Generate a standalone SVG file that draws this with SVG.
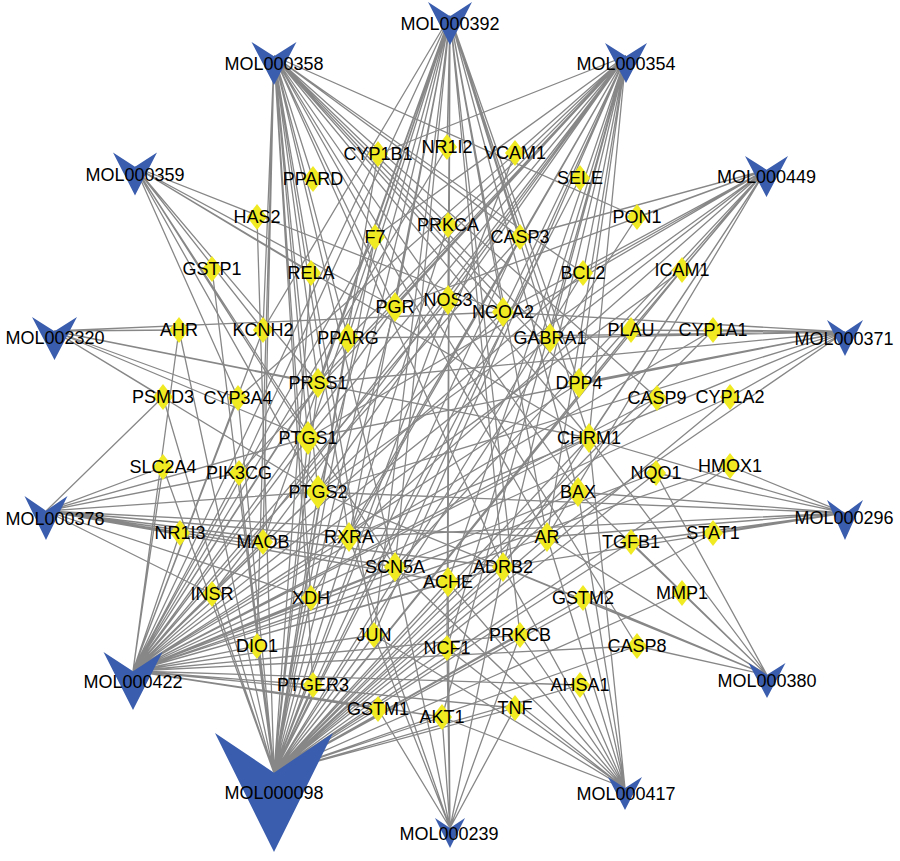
<svg xmlns="http://www.w3.org/2000/svg" xmlns:xlink="http://www.w3.org/1999/xlink" width="900" height="861" viewBox="0 0 900 861">
<style>
.e{stroke:#878787;stroke-width:1.3;fill:none}
.v{fill:#3A5DAD}
text{font-family:"Liberation Sans",Arial,sans-serif;font-size:18px;text-anchor:middle;fill:#000}
</style>
<defs>
<polygon id="ds" points="0,-13 10,0 0,13 -10,0" fill="#F0EA22"/>
<polygon id="dm" points="0,-15 11,0 0,15 -11,0" fill="#F0EA22"/>
<polygon id="dl" points="0,-17 12.5,0 0,17 -12.5,0" fill="#F0EA22"/>
</defs>
<rect width="900" height="861" fill="#fff"/>
<g id="edges" class="e">
<path id="e-MOL000098" d="M274 773L515 153M274 773L580 178M274 773L637 217M274 773L682 270M274 773L713 330M274 773L730 397M274 773L730 466M274 773L713 533M274 773L682 593M274 773L637 646M274 773L580 685M274 773L515 708M274 773L442 717M274 773L378 709M274 773L313 685M274 773L257 646M274 773L212 594M274 773L163 467M274 773L163 397M274 773L179 330M274 773L212 269M274 773L257 217M274 773L378 154M274 773L375 237M274 773L448 225M274 773L520 237M274 773L583 273M274 773L631 330M274 773L657 398M274 773L656 473M274 773L631 542M274 773L583 598M274 773L520 635M274 773L447 648M274 773L374 635M274 773L311 598M274 773L239 473M274 773L238 398M274 773L311 273M274 773L395 307M274 773L448 300M274 773L503 312M274 773L589 438M274 773L578 492M274 773L547 537M274 773L503 567M274 773L448 582M274 773L349 537M274 773L318 492M274 773L308 438M274 773L318 383M274 773L348 338"/>
<path id="e-MOL000422" d="M133 671L308 438M133 671L318 492M133 671L547 537M133 671L348 338M133 671L503 312M133 671L395 307M133 671L318 383M133 671L589 438M133 671L448 582M133 671L349 537M133 671L395 567M133 671L503 567M133 671L550 338M133 671L263 330M133 671L239 473M133 671L375 237M133 671L442 717M133 671L583 273M133 671L578 492M133 671L520 237M133 671L374 635M133 671L515 708M133 671L682 270M133 671L730 466M133 671L447 147M133 671L180 533M133 671L212 594M133 671L257 646M133 671L238 398M133 671L713 330M133 671L730 397M133 671L378 154M133 671L179 330M133 671L163 467M133 671L448 300M133 671L263 542M133 671L311 598M133 671L313 685M133 671L378 709M133 671L657 398M133 671L637 646M133 671L656 473M133 671L520 635M133 671L579 383M133 671L580 685"/>
<path id="e-MOL000358" d="M274 56L395 307M274 56L503 312M274 56L308 438M274 56L318 492M274 56L263 330M274 56L589 438M274 56L395 567M274 56L503 567M274 56L448 225M274 56L583 273M274 56L578 492M274 56L520 237M274 56L657 398M274 56L637 646M274 56L374 635M274 56L637 217M274 56L263 542M274 56L313 179M274 56L349 537M274 56L318 383M274 56L348 338M274 56L547 537M274 56L550 338M274 56L579 383M274 56L311 598M274 56L257 646M274 56L313 685"/>
<path id="e-MOL000392" d="M450 16L308 438M450 16L318 492M450 16L318 383M450 16L348 338M450 16L395 307M450 16L448 300M450 16L503 312M450 16L547 537M450 16L349 537M450 16L448 582M450 16L503 567M450 16L589 438M450 16L579 383M450 16L550 338M450 16L395 567M450 16L374 635M450 16L520 237M450 16L578 492M450 16L263 330M450 16L263 542M450 16L239 473M450 16L375 237M450 16L447 648M450 16L311 598M450 16L520 635M450 16L447 147"/>
<path id="e-MOL000354" d="M626 56L308 438M626 56L318 492M626 56L547 537M626 56L348 338M626 56L503 312M626 56L318 383M626 56L448 582M626 56L349 537M626 56L375 237M626 56L239 473M626 56L448 300M626 56L579 383M626 56L550 338M626 56L589 438M626 56L442 717M626 56L395 307M626 56L503 567M626 56L395 567M626 56L378 154M626 56L448 225M626 56L311 598M626 56L263 542M626 56L447 648M626 56L374 635M626 56L212 594M626 56L238 398M626 56L583 273"/>
<path id="e-MOL000449" d="M766 170L637 217M766 170L682 270M766 170L631 330M766 170L583 273M766 170L503 312M766 170L395 307M766 170L550 338M766 170L579 383M766 170L589 438M766 170L308 438M766 170L318 492M766 170L395 567M766 170L503 567M766 170L349 537M766 170L547 537M766 170L520 237"/>
<path id="e-MOL000359" d="M135 167L395 307M135 167L311 273M135 167L503 312M135 167L263 330M135 167L238 398M135 167L308 438M135 167L318 492M135 167L318 383M135 167L589 438M135 167L395 567"/>
<path id="e-MOL002320" d="M54 331L179 330M54 331L163 397M54 331L238 398M54 331L318 383M54 331L308 438M54 331L318 492M54 331L503 312M54 331L589 438"/>
<path id="e-MOL000371" d="M845 332L713 330M845 332L730 397M845 332L550 338M845 332L503 312M845 332L348 338M845 332L308 438M845 332L318 492M845 332L318 383M845 332L547 537M845 332L579 383M845 332L589 438M845 332L349 537M845 332L631 330"/>
<path id="e-MOL000296" d="M845 513L730 466M845 513L656 473M845 513L713 533M845 513L631 542M845 513L547 537M845 513L503 567M845 513L318 492M845 513L349 537M845 513L589 438M845 513L578 492"/>
<path id="e-MOL000378" d="M46 511L180 533M46 511L163 467M46 511L239 473M46 511L308 438M46 511L318 492M46 511L263 542M46 511L349 537M46 511L395 567M46 511L448 582M46 511L547 537M46 511L503 567M46 511L311 598M46 511L212 594M46 511L163 397"/>
<path id="e-MOL000380" d="M767 675L637 646M767 675L583 598M767 675L682 593M767 675L631 542M767 675L656 473M767 675L589 438M767 675L578 492M767 675L547 537M767 675L318 492M767 675L503 567"/>
<path id="e-MOL000417" d="M625 788L580 685M625 788L515 708M625 788L520 635M625 788L583 598M625 788L448 582M625 788L503 567M625 788L547 537M625 788L578 492M625 788L589 438M625 788L447 648M625 788L374 635M625 788L442 717M625 788L395 567"/>
<path id="e-MOL000239" d="M450 828L442 717M450 828L447 648M450 828L448 582M450 828L374 635M450 828L520 635M450 828L515 708M450 828L503 567M450 828L395 567M450 828L378 709M450 828L349 537"/>
</g>
<g id="targets">
<g id="NR1I2" transform="translate(447,147)"><use href="#ds"/><text y="6.4">NR1I2</text></g>
<g id="VCAM1" transform="translate(515,153)"><use href="#ds"/><text y="6.4">VCAM1</text></g>
<g id="SELE" transform="translate(580,178)"><use href="#ds"/><text y="6.4">SELE</text></g>
<g id="PON1" transform="translate(637,217)"><use href="#ds"/><text y="6.4">PON1</text></g>
<g id="ICAM1" transform="translate(682,270)"><use href="#ds"/><text y="6.4">ICAM1</text></g>
<g id="CYP1A1" transform="translate(713,330)"><use href="#ds"/><text y="6.4">CYP1A1</text></g>
<g id="CYP1A2" transform="translate(730,397)"><use href="#ds"/><text y="6.4">CYP1A2</text></g>
<g id="HMOX1" transform="translate(730,466)"><use href="#ds"/><text y="6.4">HMOX1</text></g>
<g id="STAT1" transform="translate(713,533)"><use href="#ds"/><text y="6.4">STAT1</text></g>
<g id="MMP1" transform="translate(682,593)"><use href="#ds"/><text y="6.4">MMP1</text></g>
<g id="CASP8" transform="translate(637,646)"><use href="#ds"/><text y="6.4">CASP8</text></g>
<g id="AHSA1" transform="translate(580,685)"><use href="#ds"/><text y="6.4">AHSA1</text></g>
<g id="TNF" transform="translate(515,708)"><use href="#ds"/><text y="6.4">TNF</text></g>
<g id="AKT1" transform="translate(442,717)"><use href="#ds"/><text y="6.4">AKT1</text></g>
<g id="GSTM1" transform="translate(378,709)"><use href="#ds"/><text y="6.4">GSTM1</text></g>
<g id="PTGER3" transform="translate(313,685)"><use href="#ds"/><text y="6.4">PTGER3</text></g>
<g id="DIO1" transform="translate(257,646)"><use href="#ds"/><text y="6.4">DIO1</text></g>
<g id="INSR" transform="translate(212,594)"><use href="#ds"/><text y="6.4">INSR</text></g>
<g id="NR1I3" transform="translate(180,533)"><use href="#ds"/><text y="6.4">NR1I3</text></g>
<g id="SLC2A4" transform="translate(163,467)"><use href="#ds"/><text y="6.4">SLC2A4</text></g>
<g id="PSMD3" transform="translate(163,397)"><use href="#ds"/><text y="6.4">PSMD3</text></g>
<g id="AHR" transform="translate(179,330)"><use href="#ds"/><text y="6.4">AHR</text></g>
<g id="GSTP1" transform="translate(212,269)"><use href="#ds"/><text y="6.4">GSTP1</text></g>
<g id="HAS2" transform="translate(257,217)"><use href="#ds"/><text y="6.4">HAS2</text></g>
<g id="PPARD" transform="translate(313,179)"><use href="#ds"/><text y="6.4">PPARD</text></g>
<g id="CYP1B1" transform="translate(378,154)"><use href="#ds"/><text y="6.4">CYP1B1</text></g>
<g id="F7" transform="translate(375,237)"><use href="#ds"/><text y="6.4">F7</text></g>
<g id="PRKCA" transform="translate(448,225)"><use href="#ds"/><text y="6.4">PRKCA</text></g>
<g id="CASP3" transform="translate(520,237)"><use href="#ds"/><text y="6.4">CASP3</text></g>
<g id="BCL2" transform="translate(583,273)"><use href="#ds"/><text y="6.4">BCL2</text></g>
<g id="PLAU" transform="translate(631,330)"><use href="#ds"/><text y="6.4">PLAU</text></g>
<g id="CASP9" transform="translate(657,398)"><use href="#ds"/><text y="6.4">CASP9</text></g>
<g id="NQO1" transform="translate(656,473)"><use href="#ds"/><text y="6.4">NQO1</text></g>
<g id="TGFB1" transform="translate(631,542)"><use href="#ds"/><text y="6.4">TGFB1</text></g>
<g id="GSTM2" transform="translate(583,598)"><use href="#ds"/><text y="6.4">GSTM2</text></g>
<g id="PRKCB" transform="translate(520,635)"><use href="#ds"/><text y="6.4">PRKCB</text></g>
<g id="NCF1" transform="translate(447,648)"><use href="#ds"/><text y="6.4">NCF1</text></g>
<g id="JUN" transform="translate(374,635)"><use href="#ds"/><text y="6.4">JUN</text></g>
<g id="XDH" transform="translate(311,598)"><use href="#ds"/><text y="6.4">XDH</text></g>
<g id="MAOB" transform="translate(263,542)"><use href="#ds"/><text y="6.4">MAOB</text></g>
<g id="PIK3CG" transform="translate(239,473)"><use href="#ds"/><text y="6.4">PIK3CG</text></g>
<g id="CYP3A4" transform="translate(238,398)"><use href="#ds"/><text y="6.4">CYP3A4</text></g>
<g id="KCNH2" transform="translate(263,330)"><use href="#ds"/><text y="6.4">KCNH2</text></g>
<g id="RELA" transform="translate(311,273)"><use href="#ds"/><text y="6.4">RELA</text></g>
<g id="PGR" transform="translate(395,307)"><use href="#dm"/><text y="6.4">PGR</text></g>
<g id="NOS3" transform="translate(448,300)"><use href="#dm"/><text y="6.4">NOS3</text></g>
<g id="NCOA2" transform="translate(503,312)"><use href="#dm"/><text y="6.4">NCOA2</text></g>
<g id="GABRA1" transform="translate(550,338)"><use href="#dm"/><text y="6.4">GABRA1</text></g>
<g id="DPP4" transform="translate(579,383)"><use href="#dm"/><text y="6.4">DPP4</text></g>
<g id="CHRM1" transform="translate(589,438)"><use href="#dm"/><text y="6.4">CHRM1</text></g>
<g id="BAX" transform="translate(578,492)"><use href="#dm"/><text y="6.4">BAX</text></g>
<g id="AR" transform="translate(547,537)"><use href="#dm"/><text y="6.4">AR</text></g>
<g id="ADRB2" transform="translate(503,567)"><use href="#dm"/><text y="6.4">ADRB2</text></g>
<g id="ACHE" transform="translate(448,582)"><use href="#dm"/><text y="6.4">ACHE</text></g>
<g id="SCN5A" transform="translate(395,567)"><use href="#dm"/><text y="6.4">SCN5A</text></g>
<g id="RXRA" transform="translate(349,537)"><use href="#dm"/><text y="6.4">RXRA</text></g>
<g id="PTGS2" transform="translate(318,492)"><use href="#dl"/><text y="6.4">PTGS2</text></g>
<g id="PTGS1" transform="translate(308,438)"><use href="#dl"/><text y="6.4">PTGS1</text></g>
<g id="PRSS1" transform="translate(318,383)"><use href="#dm"/><text y="6.4">PRSS1</text></g>
<g id="PPARG" transform="translate(348,338)"><use href="#dm"/><text y="6.4">PPARG</text></g>
</g>
<g id="compounds">
<g id="MOL000392"><polygon class="v" points="428,2 450,16.3 472,2 450,45"/><text x="450" y="30">MOL000392</text></g>
<g id="MOL000358"><polygon class="v" points="251.5,42 274,56.3 296.5,42 274,85"/><text x="274" y="70">MOL000358</text></g>
<g id="MOL000354"><polygon class="v" points="605,43 626,56.3 647,43 626,83"/><text x="626" y="69.5">MOL000354</text></g>
<g id="MOL000359"><polygon class="v" points="113,152.5 135,166.8 157,152.5 135,195.5"/><text x="135" y="180.5">MOL000359</text></g>
<g id="MOL000449"><polygon class="v" points="745,156 766.5,169.7 788,156 766.5,197"/><text x="766.5" y="183">MOL000449</text></g>
<g id="MOL002320"><polygon class="v" points="32,317 54.5,331.3 77,317 54.5,360"/><text x="55" y="344">MOL002320</text></g>
<g id="MOL000371"><polygon class="v" points="827,320 845,332 863,320 845,356"/><text x="844" y="344.5">MOL000371</text></g>
<g id="MOL000378"><polygon class="v" points="24.5,496 46,510.7 67.5,496 46,540"/><text x="55" y="524.5">MOL000378</text></g>
<g id="MOL000296"><polygon class="v" points="827,500 845,513.3 863,500 845,540"/><text x="844" y="524">MOL000296</text></g>
<g id="MOL000422"><polygon class="v" points="103.5,652 133,671.3 162.5,652 133,710"/><text x="133" y="687.5">MOL000422</text></g>
<g id="MOL000380"><polygon class="v" points="748.5,663 767,674.7 785.5,663 767,698"/><text x="767" y="687">MOL000380</text></g>
<g id="MOL000098"><polygon class="v" points="215,733 274,772.7 333,733 274,852"/><text x="274" y="799">MOL000098</text></g>
<g id="MOL000417"><polygon class="v" points="608,777 625,788 642,777 625,810"/><text x="626" y="800">MOL000417</text></g>
<g id="MOL000239"><polygon class="v" points="435,818 450,828 465,818 450,848"/><text x="449" y="839.5">MOL000239</text></g>
</g>
</svg>
